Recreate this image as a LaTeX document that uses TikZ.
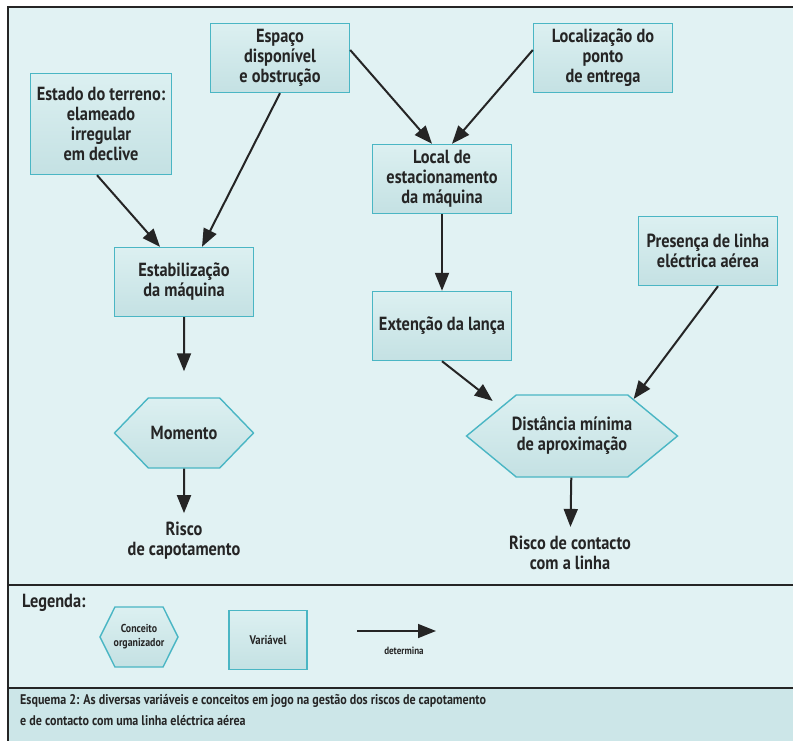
\documentclass[tikz,border=0pt]{standalone}
\usepackage{fontspec}
\setmainfont{PT Sans}[FakeStretch=0.86]
\definecolor{pagecyan}{HTML}{E1F2F3}
\definecolor{bandcyan}{HTML}{CCE6E8}
\definecolor{boxtop}{HTML}{DCF0F1}
\definecolor{boxbottom}{HTML}{C4E1E3}
\definecolor{boxline}{HTML}{4AB6C4}
\definecolor{inkgray}{HTML}{252525}
\usetikzlibrary{positioning}
\usetikzlibrary{arrows.meta, shapes.symbols}

\tikzset{
  variavel/.style={draw=boxline, line width=1.4pt, top color=boxtop, bottom color=boxbottom,
    minimum width=139pt, minimum height=69pt, align=center, inner sep=2pt, text=inkgray,
    font=\bfseries\fontsize{19}{20}\selectfont},
  conceito/.style={shape=signal, signal to=west and east, draw=boxline, line width=1.4pt,
    top color=boxtop, bottom color=boxbottom, align=center, inner sep=2pt, text=inkgray,
    font=\bfseries\fontsize{19}{20}\selectfont},
  rotulo/.style={align=center, text=inkgray, font=\bfseries\fontsize{19}{20}\selectfont},
  determina/.style={-{Triangle[length=18pt,width=14pt]}, line width=2pt, draw=inkgray},
  risco/.style={align=center, inner sep=1pt, text=inkgray, font=\bfseries\fontsize{19}{20}\selectfont}
}

\begin{document}
\begin{tikzpicture}[x=1pt, y=-1pt]
  \useasboundingbox (0,0) rectangle (793,741);
  \fill[white] (0,0) rectangle (793,741);
  \fill[pagecyan] (8,7) rectangle (800,688);
  \fill[bandcyan] (8,688) rectangle (800,745);
  \draw[inkgray, line width=1.2pt] (800,7) -- (8,7) -- (8,745);
  \draw[inkgray, line width=1.2pt] (8,585) -- (800,585);
  \draw[inkgray, line width=1.2pt] (8,688) -- (800,688);

  % variaveis
  \node[variavel, minimum width=141pt, minimum height=101pt] (terreno) at (101,124) {Estado do terreno:\\elameado\\irregular\\em declive};
  \node[variavel] (espaco) at (280,58) {Espaço\\disponível\\e obstrução};
  \node[variavel] (entrega) at (603,58) {Localização do\\ponto\\de entrega};
  \node[variavel] (estab) at (184,282) {Estabilização\\da máquina};
  \node[variavel] (local) at (442,179) {Local de\\estacionamento\\da máquina};
  \node[variavel] (lanca) at (442,326) {Extenção da lança};
  \node[variavel] (linha) at (708,251) {Presença de linha\\eléctrica aérea};

  % conceitos
  \node[conceito, minimum width=139pt, minimum height=70pt, signal pointer angle=92] (momento) at (184,433) {Momento};
  \node[conceito, minimum width=211pt, minimum height=82pt, signal pointer angle=79,
    label={[rotulo]center:{Distância mínima\\de aproximação}}] (distancia) at (572,436) {};

  \node[risco] (capot) at (184,541) {Risco\\de capotamento};
  \node[risco] (contacto) at (570,553) {Risco de contacto\\com a linha};

  \draw[determina] ([xshift=-4pt]terreno.south) -- ([xshift=-24pt]estab.north);
  \draw[determina] (espaco.south) -- ([xshift=18pt]estab.north);
  \draw[determina] ([yshift=8pt]espaco.east) -- ([xshift=-10pt]local.north);
  \draw[determina] ([yshift=8pt]entrega.west) -- ([xshift=10pt]local.north);
  \draw[determina] (local) -- (lanca);
  \draw[determina, shorten >=26pt] (estab) -- (momento);
  \draw[determina, shorten >=8pt] (momento) -- (capot);
  \draw[determina, shorten >=10pt] (lanca.south) -- (distancia.158);
  \draw[determina] ([xshift=10pt]linha.south) -- (distancia.31);
  \draw[determina, shorten >=8pt] (distancia) -- (contacto);

  % legenda
  \node[anchor=west, inner sep=0pt, text=inkgray, font=\bfseries\fontsize{19}{20}\selectfont] (legenda) at (22,603) {Legenda:};
  \node[conceito, minimum width=78pt, minimum height=60pt, signal pointer angle=127,
    label={[rotulo, font=\bfseries\fontsize{11.5}{14}\selectfont]center:{Conceito\\organizador}}] (legconceito) at (139,637) {};
  \node[variavel, minimum width=78pt, minimum height=59pt, font=\bfseries\fontsize{12.5}{14}\selectfont] (legvariavel) at (268,640) {Variável};
  \coordinate (legde) at (357,631);
  \coordinate (legate) at (436,631);
  \draw[determina, line width=1.5pt] (legde) -- (legate);
  \node[text=inkgray, font=\bfseries\fontsize{10.5}{12}\selectfont] (legdetermina) at (404,651) {determina};

  \node[anchor=west, align=left, inner sep=0pt, text=inkgray, font=\bfseries\fontsize{14}{21}\selectfont] (esquema) at (20,710)
    {Esquema 2: As diversas variáveis e conceitos em jogo na gestão dos riscos de capotamento\\e de contacto com uma linha eléctrica aérea};
\end{tikzpicture}
\end{document}
